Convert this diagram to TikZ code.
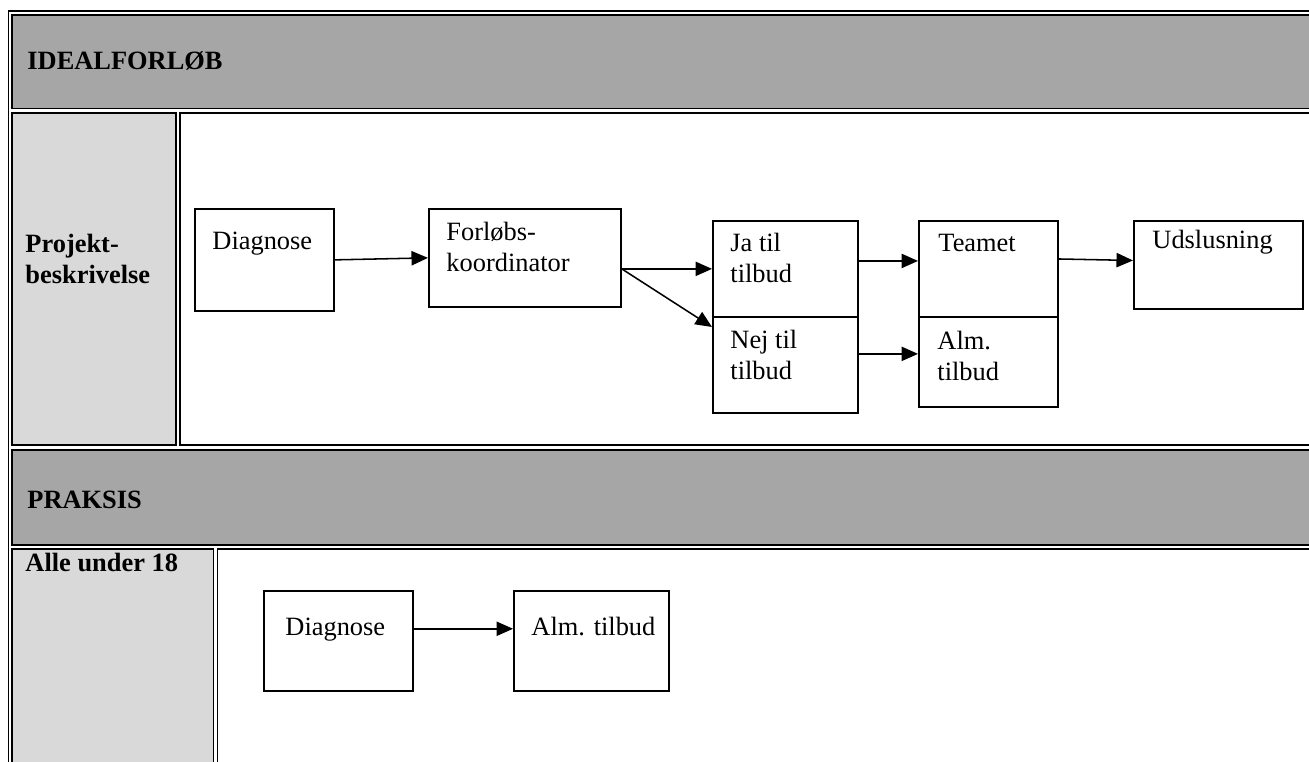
\documentclass[tikz,border=0pt]{standalone}
\usepackage{fontspec}
\setmainfont{Liberation Serif}
\usetikzlibrary{arrows.meta}

\def\px{0.4545pt}
\definecolor{hdrgray}{HTML}{A6A6A6}
\definecolor{cellgray}{HTML}{D9D9D9}

\tikzset{
  cell/.style={draw, line width=0.9pt},
  box/.style={draw, line width=0.8pt, rectangle, inner sep=0pt, anchor=north west},
  txt/.style={font=\fontsize{12}{14}\selectfont, align=left, inner sep=0pt},
  hdr/.style={txt, font=\fontsize{12}{14}\selectfont\bfseries},
  arr/.style={-{Triangle[length=7.5pt,width=6.5pt]}, line width=0.7pt},
}

\begin{document}
\begin{tikzpicture}[x=\px,y=-\px]
\useasboundingbox (0,0) rectangle (1309,762);
\clip (0,0) rectangle (1309,762);

% tabel
\draw[cell] (8.5,11) rectangle (1340,800);
\draw[cell, fill=hdrgray] (12,15) rectangle (1340,108.5);
\draw[cell, fill=cellgray] (12,113) rectangle (176,445);
\draw[cell] (180,113) rectangle (1340,445);
\draw[cell, fill=hdrgray] (12,450) rectangle (1340,545);
\draw[cell, fill=cellgray] (12,549) rectangle (213.5,800);
\draw[cell] (217.5,549) rectangle (1340,800);

\node[hdr, anchor=base west] (ideal) at (27,70) {IDEALFORLØB};
\node[hdr, anchor=north west] (projekt) at (25,234) {Projekt-\\beskrivelse};
\node[hdr, anchor=base west] (praksis) at (27,509) {PRAKSIS};
\node[hdr, anchor=base west] (alle) at (25,572) {Alle under 18};

% kasser
\foreach \n/\x/\y/\w/\h in {diag1/194/208/139/102, koord/428/208/192/98,
    ja/712/220/145/96, nej/712/316/145/96, team/918/220/139/96,
    alm1/918/316/139/90, udsl/1133/220/169/88,
    diag2/263/590/149/100, alm2/513/590/155/100} {
  \node[box, minimum width=\w*\px, minimum height=\h*\px] (\n) at (\x,\y) {};
}

% tekst i kasserne
\node[txt, anchor=base west] (diag1t) at (212,250) {Diagnose};
\node[txt, anchor=north west] (koordt) at (446,222) {Forløbs-\\koordinator};
\node[txt, anchor=north west] (jat) at (730,233) {Ja til\\tilbud};
\node[txt, anchor=north west] (nejt) at (730,330) {Nej til\\tilbud};
\node[txt, anchor=base west] (teamt) at (938,252) {Teamet};
\node[txt, anchor=north west] (alm1t) at (937,331) {Alm.\\tilbud};
\node[txt, anchor=base west] (udslt) at (1152,249) {Udslusning};
\node[txt, anchor=base west] (diag2t) at (285,636) {Diagnose};
\node[txt, anchor=base west] (alm2t) at (531,636) {Alm. tilbud};

% pile
\coordinate (split) at (koord.east |- ja.west);
\draw[arr] (diag1.east) -- (koord.west);
\draw[arr] (split) -- (ja.west);
\draw[arr] (split) -- ([yshift=-5pt]nej.north west);
\draw[arr] ([yshift=3.6pt]ja.east) -- ([yshift=3.6pt]team.west);
\draw[arr] ([yshift=5pt]nej.east) -- ([yshift=5pt]nej.east -| alm1.west);
\draw[arr] ([yshift=4.5pt]team.east) -- ([yshift=2pt]udsl.west);
\draw[arr] ([yshift=5.5pt]diag2.east) -- ([yshift=5.5pt]alm2.west);

\end{tikzpicture}
\end{document}
